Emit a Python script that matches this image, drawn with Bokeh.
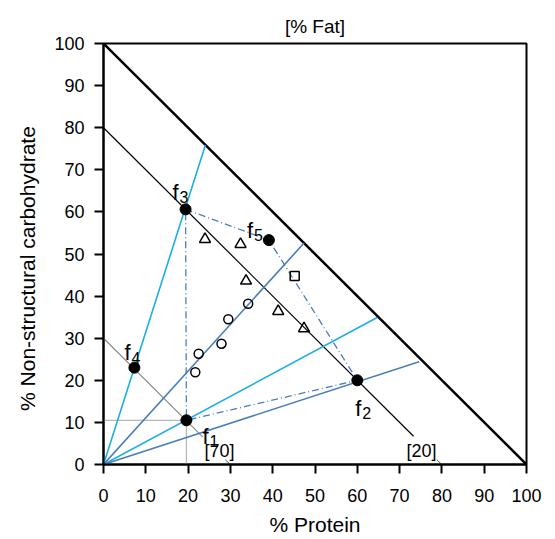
from bokeh.plotting import figure
from bokeh.models import ColumnDataSource, FixedTicker
from bokeh.core.properties import value
from bokeh.embed import file_html
from bokeh.resources import INLINE

# ---- data ----
point_names = ["f1", "f2", "f3", "f4", "f5"]
point_x = [19.6, 60.0, 19.4, 7.3, 39.1]
point_y = [10.5, 20.0, 60.6, 23.0, 53.3]

triangle_x = [24.0, 32.4, 33.7, 41.3, 47.4]
triangle_y = [53.5, 52.3, 43.6, 36.4, 32.3]
circle_x = [21.7, 22.5, 27.9, 29.5, 34.2]
circle_y = [21.9, 26.3, 28.7, 34.5, 38.2]
square_x = [45.2]
square_y = [44.8]

# rays from the origin (end points)
cyan_ray_x = [24.1, 64.7]
cyan_ray_y = [75.9, 34.9]
blue_ray_x = [47.4, 74.6]
blue_ray_y = [52.6, 24.4]

# fat iso-lines
fat100_x = [0, 100]
fat100_y = [100, 0]
fat20_x = [0, 73.3]
fat20_y = [80, 6.7]
fat70_x = [0, 23.5]
fat70_y = [30, 6.5]
fat_labels = ["[70]", "[20]"]
fat_axis_x = [30, 80]
fat_label_x = [27.4, 75.2]

# dash-dot polygon order f3 -> f5 -> f2 -> f1 -> f3
poly_order = [2, 4, 1, 0, 2]

ticks = list(range(0, 101, 10))

FONT = "Liberation Sans"
CYAN = "#1DAEE6"
STEEL = "#4A7EBB"

p = figure(width=547, height=531, x_range=(0, 100), y_range=(0, 100),
           output_backend="svg", toolbar_location=None,
           min_border_left=103, min_border_right=21, min_border_top=43, min_border_bottom=67,
           title="[% Fat]")
p.frame_width = 423
p.frame_height = 421
p.title.align = "center"
p.title.text_font = FONT
p.title.text_font_size = "19px"
p.title.text_font_style = "normal"
p.title.text_color = "black"
p.title.standoff = 14
p.xgrid.visible = False
p.ygrid.visible = False
p.outline_line_color = "black"
p.outline_line_width = 2
p.outline_line_alpha = 1
p.background_fill_color = "white"
p.border_fill_color = "white"

for ax in (p.xaxis[0], p.yaxis[0]):
    ax.ticker = FixedTicker(ticks=ticks)
    ax.axis_line_width = 2
    ax.axis_line_color = "black"
    ax.major_tick_line_width = 2
    ax.major_tick_line_color = "black"
    ax.major_tick_out = 9
    ax.major_tick_in = 0
    ax.minor_tick_line_color = None
    ax.major_label_text_font = FONT
    ax.major_label_text_font_size = "18px"
    ax.major_label_text_color = "black"
    ax.axis_label_text_font = FONT
    ax.axis_label_text_font_size = "21px"
    ax.axis_label_text_font_style = "normal"
    ax.axis_label_text_color = "black"

p.xaxis.axis_label = "% Protein"
# trailing no-break spaces shift the centred label down, as in the reference
p.yaxis.axis_label = "% Non-structural carbohydrate" + "\u00a0" * 5
p.xaxis.major_label_standoff = 15
p.yaxis.major_label_standoff = 10
p.xaxis.axis_label_standoff = 8
p.yaxis.axis_label_standoff = 12

# light reference lines at f1
f1x, f1y = point_x[0], point_y[0]
p.line([0, f1x], [f1y, f1y], line_color="#B8B8B8", line_width=1.3)
p.line([f1x, f1x], [0, f1y], line_color="#B8B8B8", line_width=1.3)

# fat iso-lines
p.line(fat100_x, fat100_y, line_color="black", line_width=2.5)
p.line(fat20_x, fat20_y, line_color="black", line_width=1.2)
p.line(fat70_x, fat70_y, line_color="#8C8C8C", line_width=1.2)

# rays
for ex, ey in zip(cyan_ray_x, cyan_ray_y):
    p.line([0, ex], [0, ey], line_color=CYAN, line_width=1.6)
for ex, ey in zip(blue_ray_x, blue_ray_y):
    p.line([0, ex], [0, ey], line_color=STEEL, line_width=1.6)

# dash-dot polygon
p.line([point_x[i] for i in poly_order], [point_y[i] for i in poly_order],
       line_color=STEEL, line_width=1.3, line_dash="7 3 1 3")

# fat label leaders and labels
for lx in fat_axis_x:
    p.line([lx - 1.2, lx], [1.1, 0], line_color="#555555", line_width=1)
p.text(x=fat_label_x, y=[3.3] * 2, text=fat_labels,
       text_font=value(FONT), text_font_size="18px", text_color="black",
       text_align="center", text_baseline="middle")

# markers
p.scatter(triangle_x, triangle_y, marker="triangle", size=11, fill_color=None,
          line_color="black", line_width=1.5)
p.scatter(circle_x, circle_y, marker="circle", size=9, fill_color=None,
          line_color="black", line_width=1.5)
p.scatter(square_x, square_y, marker="square", size=9, fill_color=None,
          line_color="black", line_width=1.5)
p.scatter(point_x, point_y, marker="circle", size=11, fill_color="black",
          line_color="black")

# f labels (offsets in screen pixels)
label_dx = [16, -2, -13, -10, -22]
label_dy = [16, 28, -17, -15, -10]
src = ColumnDataSource(dict(x=point_x, y=point_y,
                            f=["f"] * len(point_names),
                            sub=[n[1:] for n in point_names],
                            dx=label_dx, dy=label_dy,
                            sdx=[d + 7 for d in label_dx],
                            sdy=[d + 5 for d in label_dy]))
p.text(x="x", y="y", text="f", x_offset="dx", y_offset="dy", source=src,
       text_font=value(FONT), text_font_size="22px", text_color="black",
       text_align="left", text_baseline="alphabetic")
p.text(x="x", y="y", text="sub", x_offset="sdx", y_offset="sdy", source=src,
       text_font=value(FONT), text_font_size="16px", text_color="black",
       text_align="left", text_baseline="alphabetic")

open("out.html", "w").write(file_html(p, INLINE))
